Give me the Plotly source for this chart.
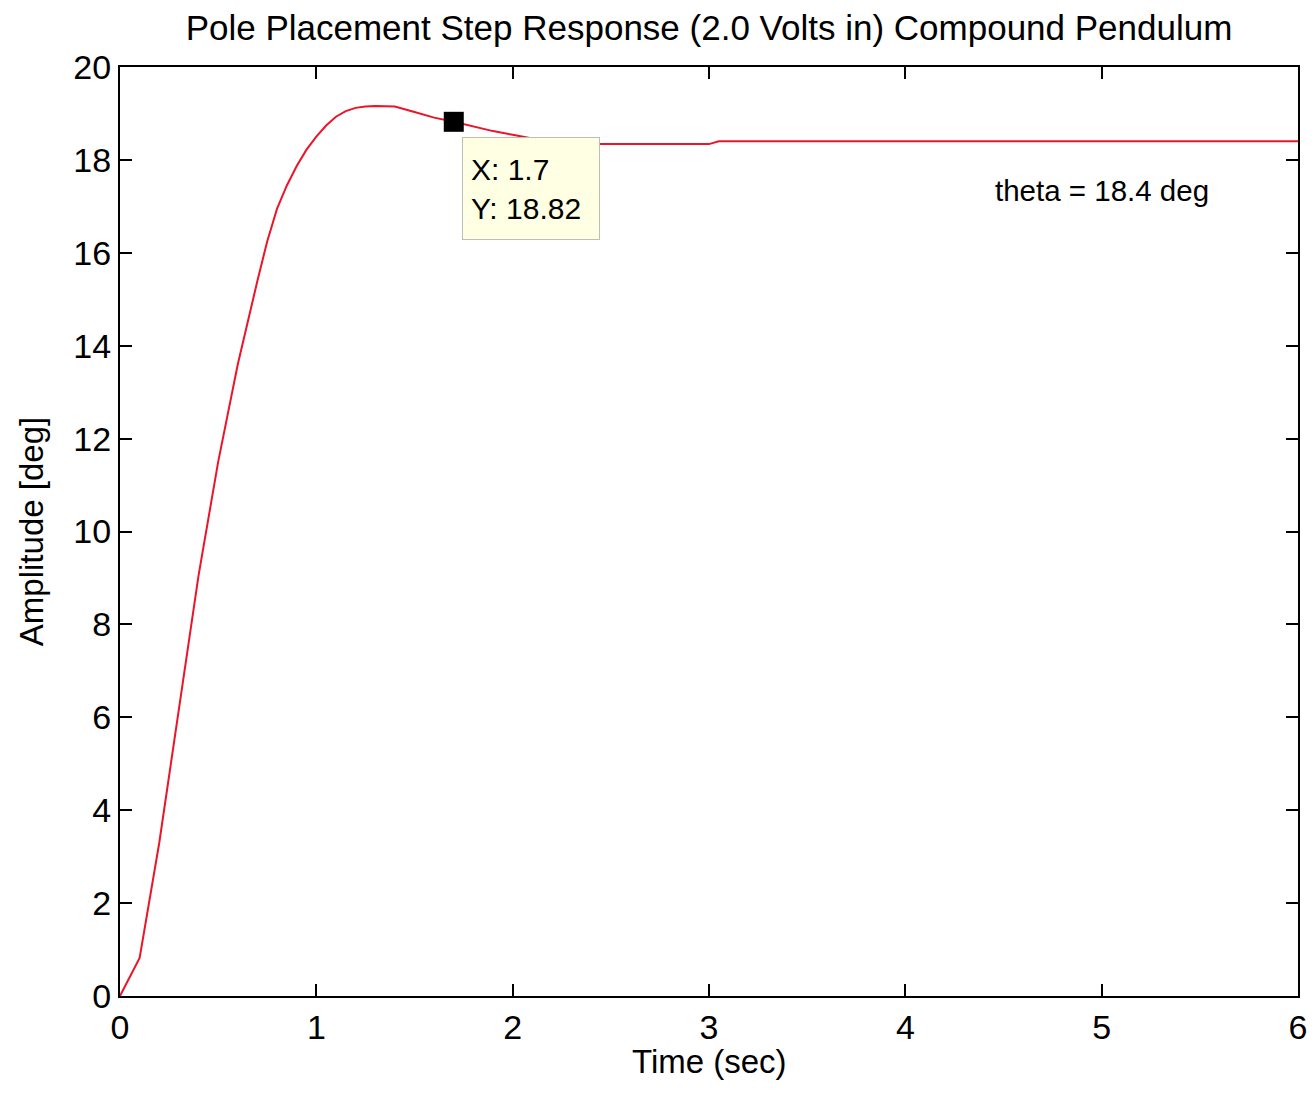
import plotly.graph_objects as go

# Step response data (time in sec, amplitude in deg)
time_s = [0.0, 0.1, 0.2, 0.3, 0.4, 0.5, 0.6, 0.7, 0.75, 0.8, 0.85, 0.9, 0.95, 1.0, 1.05, 1.1,
          1.15, 1.2, 1.25, 1.3, 1.4, 1.5, 1.6, 1.7, 1.8, 1.9, 2.0, 2.1, 2.2, 2.3, 2.4, 2.5,
          3.0, 3.05, 6.0]
amplitude_deg = [0.0, 0.82, 3.3, 6.2, 9.05, 11.5, 13.6, 15.4, 16.25, 16.95, 17.45, 17.87, 18.22,
                 18.5, 18.74, 18.93, 19.05, 19.12, 19.15, 19.16, 19.15, 19.03, 18.91, 18.82,
                 18.72, 18.62, 18.54, 18.46, 18.40, 18.36, 18.34, 18.34, 18.34, 18.40, 18.40]

datatip_x = [1.7]
datatip_y = [18.82]

x_ticks = [0, 1, 2, 3, 4, 5, 6]
y_ticks = [0, 2, 4, 6, 8, 10, 12, 14, 16, 18, 20]

FONT = "Liberation Sans, Arial, sans-serif"

fig = go.Figure()
fig.add_trace(go.Scatter(x=time_s, y=amplitude_deg, mode="lines",
                         line=dict(color="rgb(235,20,40)", width=2),
                         showlegend=False, hoverinfo="x+y"))
fig.add_trace(go.Scatter(x=datatip_x, y=datatip_y, mode="markers",
                         marker=dict(symbol="square", size=20, color="black"),
                         showlegend=False))

fig.add_annotation(x=1.742, y=18.49, xref="x", yref="y", xanchor="left", yanchor="top",
                   text="X: 1.7<br>Y: 18.82", showarrow=False, align="left",
                   font=dict(family=FONT, size=30, color="black"),
                   bgcolor="rgb(255,255,228)", bordercolor="rgb(190,190,180)",
                   borderwidth=1, borderpad=8, width=120, height=85, valign="middle")
fig.add_annotation(x=4.447, y=17.35, xref="x", yref="y", xanchor="left", yanchor="middle",
                   text="theta = 18.4 deg", showarrow=False,
                   font=dict(family=FONT, size=29.5, color="black"))

# x-axis title placed as annotation to sit close to the tick labels
fig.add_annotation(x=0.5, y=-(1061 - 996) / 929, xref="paper", yref="paper",
                   xanchor="center", yanchor="middle", text="Time (sec)", showarrow=False,
                   font=dict(family=FONT, size=33, color="black"))

axis_common = dict(showline=True, linecolor="black", linewidth=2, mirror="allticks",
                   ticks="inside", ticklen=12, tickwidth=2, tickcolor="black",
                   showgrid=False, zeroline=False,
                   tickfont=dict(family=FONT, size=34, color="black"))

fig.update_xaxes(range=[0, 6], tickvals=x_ticks, ticktext=[str(v) for v in x_ticks],
                 **axis_common)
fig.update_yaxes(range=[0, 20], tickvals=y_ticks, ticktext=[str(v) for v in y_ticks],
                 title=dict(text="Amplitude [deg]", font=dict(family=FONT, size=33, color="black"),
                            standoff=20),
                 **axis_common)

fig.update_layout(
    width=1316, height=1104,
    margin=dict(l=120, r=18, t=67, b=108, autoexpand=False),
    paper_bgcolor="white", plot_bgcolor="white",
    title=dict(text="Pole Placement Step Response (2.0 Volts in) Compound Pendulum",
               font=dict(family=FONT, size=35, color="black"),
               x=0.5, xref="paper", xanchor="center",
               y=1 - 28 / 1104, yref="container", yanchor="middle"),
)

fig.write_html("out.html")
